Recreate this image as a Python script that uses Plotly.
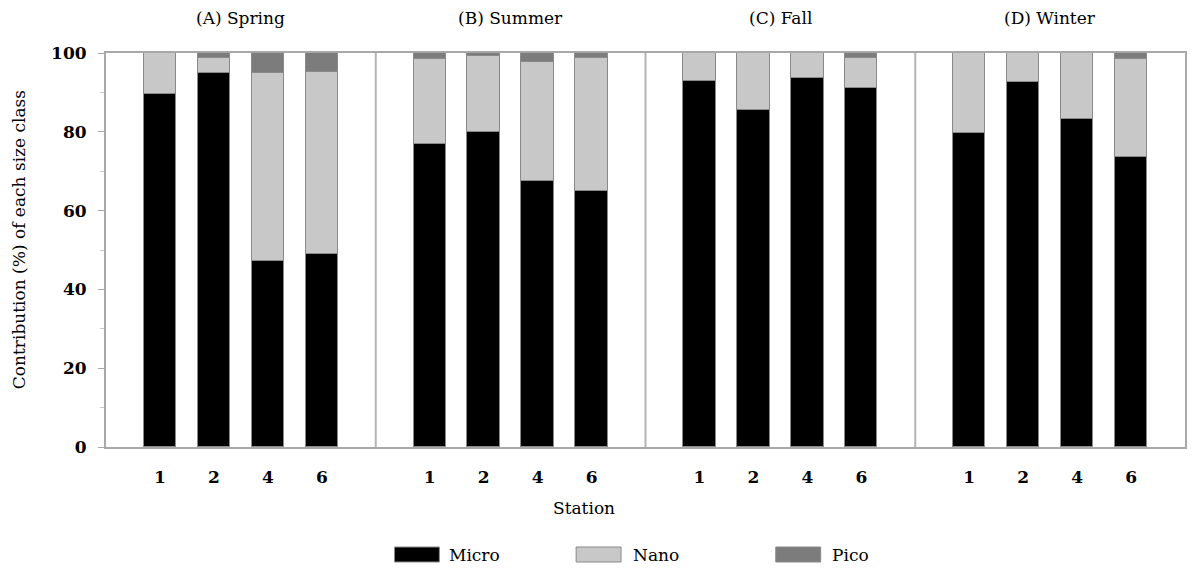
import plotly.graph_objects as go

# Phytoplankton size-class contribution (%) by season and station
seasons = ["(A) Spring", "(B) Summer", "(C) Fall", "(D) Winter"]
stations = ["1", "2", "4", "6"]

micro_spring = [89.7, 95.0, 47.2, 49.0]
nano_spring = [10.3, 3.7, 47.8, 46.2]
pico_spring = [0.0, 1.3, 5.0, 4.8]

micro_summer = [76.8, 80.0, 67.5, 65.0]
nano_summer = [21.7, 19.2, 30.3, 33.8]
pico_summer = [1.5, 0.8, 2.2, 1.2]

micro_fall = [93.0, 85.5, 93.6, 91.0]
nano_fall = [7.0, 14.5, 6.4, 7.8]
pico_fall = [0.0, 0.0, 0.0, 1.2]

micro_winter = [79.6, 92.7, 83.2, 73.6]
nano_winter = [20.4, 7.3, 16.8, 24.9]
pico_winter = [0.0, 0.0, 0.0, 1.5]

y_ticks = [0, 20, 40, 60, 80, 100]

micro = micro_spring + micro_summer + micro_fall + micro_winter
nano = nano_spring + nano_summer + nano_fall + nano_winter
pico = pico_spring + pico_summer + pico_fall + pico_winter

# each season occupies 5 slots on a shared axis: stations at 1..4, gap at 5
n_st = len(stations)
slot = n_st + 1
xpos = [s * slot + i + 1 for s in range(len(seasons)) for i in range(n_st)]
xlabels = stations * len(seasons)

FONT = "DejaVu Serif"
colors = {"Micro": "#000000", "Nano": "#c8c8c8", "Pico": "#7c7c7c"}
edge = dict(color="#8a8a8a", width=1)

fig = go.Figure()
for name, vals in [("Micro", micro), ("Nano", nano), ("Pico", pico)]:
    fig.add_trace(go.Bar(
        x=xpos, y=vals, name=name, width=0.6,
        marker=dict(color=colors[name], line=edge),
        showlegend=False,
    ))

W, H = 1194, 568
L, R, T, B = 106, 7, 53, 121
pw, ph = W - L - R, H - T - B


def px_x(p):
    return (p - L) / pw


def px_y(p):
    return (H - B - p) / ph


shapes = []
# season dividers
for s in range(1, len(seasons)):
    shapes.append(dict(type="line", xref="x", yref="y", x0=s * slot, x1=s * slot,
                       y0=0, y1=100, line=dict(color="#b4b4b4", width=2), layer="above"))

annotations = []
for s, title in enumerate(seasons):
    annotations.append(dict(text=title, x=s * slot + slot / 2, y=px_y(18),
                            xref="x", yref="paper", showarrow=False,
                            font=dict(family=FONT, size=17, color="#000"),
                            xanchor="center", yanchor="middle"))

annotations.append(dict(text="Station", x=px_x(585), y=px_y(508), xref="paper", yref="paper",
                        showarrow=False, font=dict(family=FONT, size=17, color="#000"),
                        xanchor="center", yanchor="middle"))
annotations.append(dict(text="Contribution (%) of each size class", x=px_x(19), y=px_y(240),
                        xref="paper", yref="paper", showarrow=False, textangle=-90,
                        font=dict(family=FONT, size=17, color="#000"),
                        xanchor="center", yanchor="middle"))

# legend swatches
legend_items = [("Micro", 395, 448), ("Nano", 577, 632), ("Pico", 777, 831)]
for name, bx, tx in legend_items:
    shapes.append(dict(type="rect", xref="paper", yref="paper",
                       x0=px_x(bx), x1=px_x(bx + 45), y0=px_y(562), y1=px_y(547),
                       fillcolor=colors[name], line=dict(color="#8a8a8a", width=1)))
    annotations.append(dict(text=name, x=px_x(tx), y=px_y(555), xref="paper", yref="paper",
                            showarrow=False, font=dict(family=FONT, size=17, color="#000"),
                            xanchor="left", yanchor="middle"))

fig.update_layout(
    barmode="stack",
    width=W, height=H,
    margin=dict(l=L, r=R, t=T, b=B),
    plot_bgcolor="white", paper_bgcolor="white",
    shapes=shapes, annotations=annotations,
    bargap=0,
)
fig.update_xaxes(
    range=[0, slot * len(seasons)], tickvals=xpos, ticktext=xlabels,
    showgrid=False, zeroline=False, ticks="",
    showline=True, linecolor="#a8a8a8", linewidth=2, mirror=True,
    tickfont=dict(family=FONT, size=17, color="#000", weight="bold"),
    ticklabelstandoff=14,
)
fig.update_yaxes(
    range=[0, 100], tickvals=y_ticks, showgrid=False, zeroline=False,
    showline=True, linecolor="#a8a8a8", linewidth=2, mirror=True,
    ticks="outside", ticklen=6, tickcolor="#a8a8a8", tickwidth=1,
    minor=dict(dtick=10, ticks="outside", ticklen=4, tickcolor="#c8c8c8"),
    tickfont=dict(family=FONT, size=17, color="#000", weight="bold"),
    ticklabelstandoff=8,
)

fig.write_html("out.html")
